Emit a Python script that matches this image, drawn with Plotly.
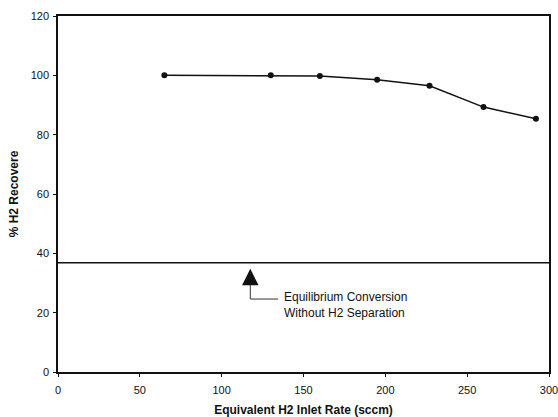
import plotly.graph_objects as go

# Data
inlet_rate = [65, 130, 160, 195, 227, 260, 292]
h2_recovery = [100, 100, 99.8, 98.5, 96.5, 89.3, 85.4]
equilibrium_x = [0, 300]
equilibrium_y = [36.8, 36.8]
x_ticks = [0, 50, 100, 150, 200, 250, 300]
y_ticks = [0, 20, 40, 60, 80, 100, 120]

# Annotation geometry (data units)
arrow_x = 117.5
arrow_tip_y = 34.8
arrow_base_y = 24.6
connector_end_x = 134.5
label_x = 137
label_y = 22.6
label_text = "Equilibrium Conversion<br>Without H2 Separation"

fig = go.Figure()
fig.add_trace(go.Scatter(x=equilibrium_x, y=equilibrium_y, mode="lines",
                         line=dict(color="#111", width=1.5), hoverinfo="skip"))
fig.add_trace(go.Scatter(x=inlet_rate, y=h2_recovery, mode="lines+markers",
                         line=dict(color="#111", width=1.5),
                         marker=dict(color="#111", size=6)))
fig.add_trace(go.Scatter(x=[arrow_x, arrow_x, connector_end_x],
                         y=[arrow_tip_y - 2, arrow_base_y, arrow_base_y],
                         mode="lines", line=dict(color="#333", width=1)))
fig.add_annotation(x=arrow_x, y=arrow_tip_y, ax=arrow_x, ay=arrow_tip_y - 3.5,
                   xref="x", yref="y", axref="x", ayref="y", text="",
                   showarrow=True, arrowhead=2, arrowsize=2.2, arrowwidth=1.5,
                   arrowcolor="#111")
fig.add_annotation(x=label_x, y=label_y, xref="x", yref="y", text=label_text,
                   showarrow=False, xanchor="left", yanchor="middle", align="left",
                   font=dict(family="Arial, Liberation Sans", size=12, color="#111"))

axis_common = dict(showline=True, linecolor="#111", linewidth=1.5, mirror=True,
                   ticks="outside", ticklen=3, tickcolor="#111", showgrid=False,
                   zeroline=False, automargin=False, ticklabeloverflow="allow",
                   tickfont=dict(family="Arial, Liberation Sans", size=11, color="#111"))

fig.update_layout(
    width=558, height=417,
    margin=dict(l=58, r=9, t=16, b=45),
    paper_bgcolor="white", plot_bgcolor="white",
    showlegend=False,
    xaxis=dict(range=[0, 300], tickvals=x_ticks, ticklabelstandoff=4,
               title=dict(text="<b>Equivalent H2 Inlet Rate (sccm)</b>", standoff=14,
                          font=dict(family="Arial, Liberation Sans", size=12, color="#111")),
               **axis_common),
    yaxis=dict(range=[0, 120], tickvals=y_ticks, ticklabelstandoff=2,
               title=dict(text="<b>% H2 Recovere</b>", standoff=9,
                          font=dict(family="Arial, Liberation Sans", size=12, color="#111")),
               **axis_common),
)

fig.write_html("out.html", config={"displayModeBar": False},
               post_script="document.body.style.margin='0';document.body.style.overflow='hidden';")
